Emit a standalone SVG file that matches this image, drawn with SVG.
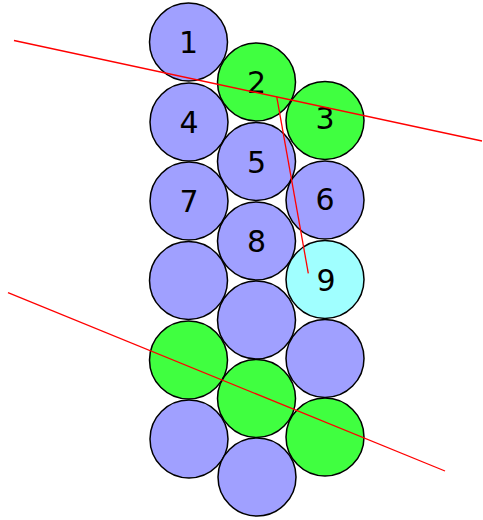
<svg xmlns="http://www.w3.org/2000/svg" width="483" height="520" viewBox="0 0 483 520">
<style>
.c{stroke:#000;stroke-width:1.5}
.b{fill:#a0a0ff}
.g{fill:#40ff40}
.y{fill:#a0ffff}
.t{font-family:"DejaVu Sans",Verdana,sans-serif;font-size:30px;fill:#000;text-anchor:middle}
.l{stroke:#ff0000;stroke-width:1.3;fill:none}
</style>
<rect width="483" height="520" fill="#fff"/>
<g id="n1"><circle class="c b" cx="188.5" cy="42" r="39"/><text class="t" x="188.5" y="53">1</text></g>
<g id="n4"><circle class="c b" cx="189" cy="122" r="39"/><text class="t" x="189" y="133">4</text></g>
<g id="n7"><circle class="c b" cx="189" cy="201" r="39"/><text class="t" x="189" y="212">7</text></g>
<g id="c1r4"><circle class="c b" cx="188.5" cy="280.5" r="39"/></g>
<g id="c1r5"><circle class="c g" cx="188.5" cy="360" r="39"/></g>
<g id="c1r6"><circle class="c b" cx="189" cy="439" r="39"/></g>
<g id="n2"><circle class="c g" cx="256.5" cy="82" r="39"/><text class="t" x="256.5" y="93">2</text></g>
<g id="n5"><circle class="c b" cx="256.5" cy="161.5" r="39"/><text class="t" x="256.5" y="172.5">5</text></g>
<g id="n8"><circle class="c b" cx="256.5" cy="241" r="39"/><text class="t" x="256.5" y="252">8</text></g>
<g id="c2r4"><circle class="c b" cx="256.5" cy="320" r="39"/></g>
<g id="c2r5"><circle class="c g" cx="256.5" cy="398.5" r="39"/></g>
<g id="c2r6"><circle class="c b" cx="257" cy="477" r="39"/></g>
<g id="n3"><circle class="c g" cx="325" cy="120.5" r="39"/><text class="t" x="325" y="128.5">3</text></g>
<g id="n6"><circle class="c b" cx="325" cy="200" r="39"/><text class="t" x="325" y="210">6</text></g>
<g id="n9"><circle class="c y" cx="325" cy="279.5" r="39"/><text class="t" x="326" y="290.5">9</text></g>
<g id="c3r4"><circle class="c b" cx="325" cy="358.5" r="39"/></g>
<g id="c3r5"><circle class="c g" cx="325" cy="437" r="39"/></g>
<g id="connectors">
<line class="l" x1="14" y1="40.5" x2="482" y2="141"/>
<line class="l" x1="8" y1="292.7" x2="445" y2="471"/>
<line class="l" x1="276.7" y1="96.7" x2="308.3" y2="273.3"/>
</g>
</svg>
